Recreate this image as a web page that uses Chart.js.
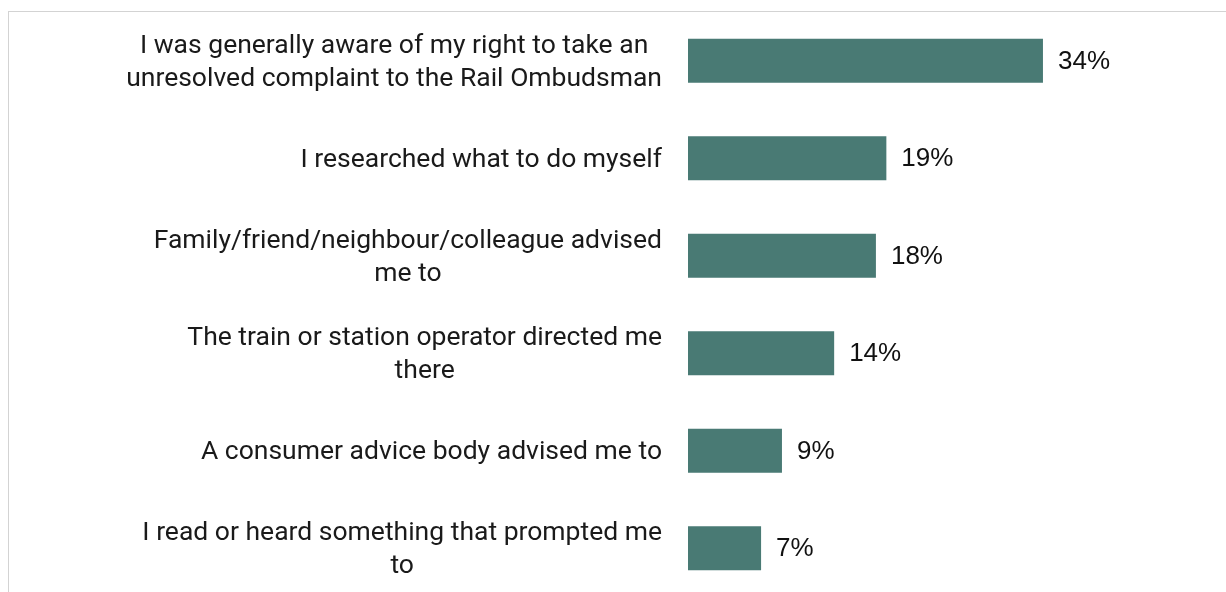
<!DOCTYPE html>
<html lang="en">
  <head>
    <meta charset="utf-8" />
    <title>Why complainants came to the Rail Ombudsman</title>
    <style>
      * {
        margin: 0;
        padding: 0;
      }
      body {
        width: 1226px;
        height: 592px;
        overflow: hidden;
        background: white;
        position: relative;
      }
      .frame {
        position: absolute;
        left: 8px;
        top: 11px;
        width: 1400px;
        height: 700px;
        border: 1px solid #d3d3d3;
      }
      .chartBox {
        position: absolute;
        left: 0;
        top: 0;
        width: 1226px;
        height: 597px;
      }
    </style>
  </head>
  <body>
    <div class="frame"></div>
    <div class="chartBox">
      <canvas id="myChart"></canvas>
    </div>

    <script src="https://cdn.jsdelivr.net/npm/chart.js"></script>

    <script>
      const categories = [
        ["I was generally aware of my right to take an", "unresolved complaint to the Rail Ombudsman"],
        ["I researched what to do myself"],
        ["Family/friend/neighbour/colleague advised", "me to"],
        ["The train or station operator directed me", "there"],
        ["A consumer advice body advised me to"],
        ["I read or heard something that prompted me", "to"],
      ];
      const shares = [34, 19, 18, 14, 9, 7];

      // category labels: centred lines, right edge just left of the bars
      const centredLabels = {
        id: "centredLabels",
        afterDraw(chart) {
          const { ctx, scales: { y } } = chart;
          ctx.save();
          ctx.font = "26.5px Roboto";
          ctx.fillStyle = "#1a1a1a";
          ctx.textAlign = "center";
          ctx.textBaseline = "middle";
          const lineH = 33;
          const rightEdge = 662;
          categories.forEach((lines, i) => {
            const cy = y.getPixelForValue(i) + 2;
            const w = Math.max(...lines.map((l) => ctx.measureText(l).width));
            const cx = rightEdge - w / 2;
            const top = cy - ((lines.length - 1) * lineH) / 2;
            lines.forEach((l, j) => ctx.fillText(l, cx, top + j * lineH));
          });
          ctx.restore();
        },
      };

      const valueLabels = {
        id: "valueLabels",
        afterDatasetsDraw(chart) {
          const { ctx } = chart;
          const meta = chart.getDatasetMeta(0);
          ctx.save();
          ctx.font = "26px 'Liberation Sans'";
          ctx.fillStyle = "#111";
          ctx.textAlign = "left";
          ctx.textBaseline = "middle";
          meta.data.forEach((bar, i) => {
            ctx.fillText(shares[i] + "%", bar.x + 15, bar.y + 1);
          });
          ctx.restore();
        },
      };

      const config = {
        type: "bar",
        data: {
          labels: categories,
          datasets: [
            {
              data: shares,
              backgroundColor: "#497a74",
              borderWidth: 0,
              barPercentage: 0.45,
              categoryPercentage: 1,
            },
          ],
        },
        options: {
          indexAxis: "y",
          responsive: true,
          maintainAspectRatio: false,
          animation: false,
          layout: {
            padding: { left: 688, right: 16, top: 12, bottom: 0 },
          },
          plugins: {
            legend: { display: false },
            tooltip: { enabled: false },
          },
          scales: {
            x: {
              min: 0,
              max: 50,
              display: false,
            },
            y: {
              display: false,
            },
          },
        },
        plugins: [centredLabels, valueLabels],
      };

      const myChart = new Chart(document.getElementById("myChart"), config);
    </script>
  </body>
</html>
